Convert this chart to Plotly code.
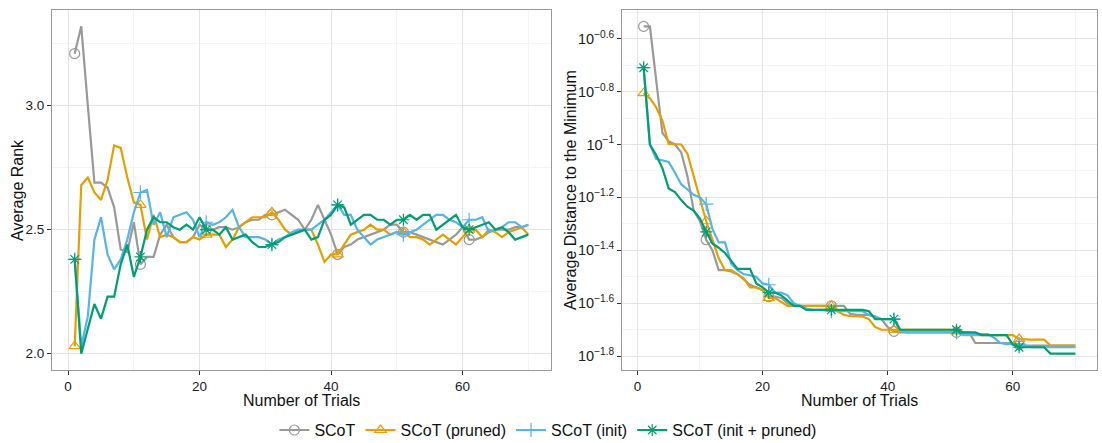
import numpy as np
import plotly.graph_objects as go

# ---------------- data ----------------
trials = list(range(1, 71))
marker_trials = [1, 11, 21, 31, 41, 51, 61]

series_names = ["SCoT", "SCoT (pruned)", "SCoT (init)", "SCoT (init + pruned)"]
series_colors = ["#999999", "#E69F00", "#56B4E9", "#009E73"]
series_symbols = ["circle-open", "triangle-up-open", "cross-thin-open", "asterisk-open"]

# Left panel: average rank
rank_scot = [
    3.21, 3.32, 3.00, 2.69, 2.69, 2.67, 2.59, 2.42, 2.41, 2.53,
    2.36, 2.39, 2.39, 2.48, 2.52, 2.47, 2.45, 2.45, 2.47, 2.52,
    2.50, 2.50, 2.51, 2.51, 2.50, 2.51, 2.53, 2.54, 2.54, 2.56,
    2.56, 2.57, 2.58, 2.56, 2.54, 2.50, 2.54, 2.60, 2.54, 2.48,
    2.40, 2.43, 2.44, 2.46, 2.47, 2.48, 2.49, 2.50, 2.52, 2.52,
    2.49, 2.49, 2.48, 2.47, 2.46, 2.45, 2.44, 2.46, 2.48, 2.51,
    2.46, 2.46, 2.47, 2.49, 2.50, 2.50, 2.50, 2.51, 2.51, 2.52,
]
rank_pruned = [
    2.03, 2.68, 2.71, 2.65, 2.62, 2.70, 2.84, 2.83, 2.71, 2.61,
    2.60, 2.46, 2.56, 2.47, 2.48, 2.47, 2.45, 2.45, 2.47, 2.46,
    2.48, 2.48, 2.48, 2.43, 2.46, 2.51, 2.53, 2.55, 2.55, 2.55,
    2.57, 2.54, 2.50, 2.48, 2.49, 2.50, 2.50, 2.44, 2.37, 2.40,
    2.40, 2.44, 2.48, 2.49, 2.50, 2.52, 2.50, 2.50, 2.48, 2.49,
    2.49, 2.47, 2.47, 2.46, 2.44, 2.46, 2.48, 2.46, 2.44, 2.47,
    2.50, 2.50, 2.47, 2.50, 2.49, 2.47, 2.49, 2.50, 2.51, 2.48,
]
rank_init = [
    2.38, 2.03, 2.15, 2.46, 2.55, 2.40, 2.34, 2.38, 2.46, 2.57,
    2.65, 2.66, 2.52, 2.57, 2.47, 2.55, 2.56, 2.57, 2.54, 2.47,
    2.53, 2.52, 2.53, 2.55, 2.58, 2.51, 2.47, 2.47, 2.47, 2.46,
    2.44, 2.46, 2.47, 2.49, 2.50, 2.50, 2.50, 2.52, 2.54, 2.57,
    2.60, 2.56, 2.56, 2.50, 2.47, 2.44, 2.46, 2.47, 2.48, 2.49,
    2.48, 2.49, 2.50, 2.52, 2.54, 2.56, 2.56, 2.54, 2.53, 2.51,
    2.54, 2.54, 2.55, 2.49, 2.50, 2.51, 2.53, 2.53, 2.51, 2.52,
]
rank_init_pruned = [
    2.38, 2.00, 2.10, 2.20, 2.14, 2.23, 2.23, 2.36, 2.44, 2.31,
    2.39, 2.50, 2.55, 2.53, 2.53, 2.51, 2.50, 2.52, 2.50, 2.55,
    2.50, 2.50, 2.48, 2.51, 2.46, 2.47, 2.48, 2.45, 2.43, 2.43,
    2.44, 2.45, 2.47, 2.48, 2.49, 2.50, 2.46, 2.47, 2.54, 2.56,
    2.60, 2.59, 2.52, 2.54, 2.56, 2.56, 2.54, 2.54, 2.52, 2.54,
    2.54, 2.56, 2.54, 2.56, 2.56, 2.50, 2.52, 2.54, 2.56, 2.51,
    2.50, 2.51, 2.52, 2.53, 2.50, 2.51, 2.49, 2.46, 2.47, 2.48,
]

# Right panel: log10 of average distance to the minimum
log10_dist_scot = [
    -0.554, -0.554, -0.756, -0.956, -0.988, -1.000, -1.030, -1.120, -1.250, -1.290,
    -1.360, -1.400, -1.475, -1.475, -1.480, -1.490, -1.510, -1.530, -1.540, -1.550,
    -1.575, -1.575, -1.580, -1.600, -1.610, -1.610, -1.610, -1.610, -1.610, -1.610,
    -1.610, -1.610, -1.610, -1.640, -1.644, -1.644, -1.644, -1.650, -1.660, -1.690,
    -1.706, -1.710, -1.710, -1.710, -1.710, -1.710, -1.710, -1.710, -1.710, -1.710,
    -1.710, -1.710, -1.710, -1.750, -1.750, -1.750, -1.750, -1.750, -1.750, -1.750,
    -1.756, -1.760, -1.760, -1.760, -1.760, -1.760, -1.760, -1.760, -1.760, -1.760,
]
log10_dist_pruned = [
    -0.806, -0.825, -0.860, -0.910, -0.998, -1.000, -1.000, -1.035, -1.120, -1.210,
    -1.290, -1.360, -1.430, -1.475, -1.475, -1.490, -1.506, -1.540, -1.540, -1.550,
    -1.580, -1.580, -1.596, -1.610, -1.610, -1.610, -1.610, -1.610, -1.610, -1.610,
    -1.610, -1.630, -1.644, -1.648, -1.650, -1.650, -1.660, -1.690, -1.700, -1.700,
    -1.700, -1.700, -1.700, -1.700, -1.700, -1.700, -1.700, -1.700, -1.700, -1.700,
    -1.706, -1.720, -1.720, -1.720, -1.720, -1.720, -1.720, -1.720, -1.720, -1.720,
    -1.735, -1.737, -1.737, -1.737, -1.737, -1.760, -1.760, -1.760, -1.760, -1.760,
]
log10_dist_init = [
    -0.710, -1.000, -1.054, -1.060, -1.066, -1.106, -1.150, -1.170, -1.190, -1.200,
    -1.225, -1.320, -1.370, -1.370, -1.450, -1.475, -1.490, -1.494, -1.500, -1.525,
    -1.530, -1.560, -1.560, -1.570, -1.600, -1.610, -1.620, -1.625, -1.625, -1.625,
    -1.630, -1.630, -1.630, -1.630, -1.630, -1.630, -1.644, -1.650, -1.660, -1.660,
    -1.660, -1.700, -1.710, -1.710, -1.710, -1.710, -1.710, -1.710, -1.710, -1.710,
    -1.710, -1.716, -1.716, -1.716, -1.716, -1.716, -1.730, -1.750, -1.754, -1.754,
    -1.754, -1.760, -1.766, -1.766, -1.766, -1.766, -1.766, -1.766, -1.766, -1.766,
]
log10_dist_init_pruned = [
    -0.710, -1.000, -1.040, -1.090, -1.166, -1.180, -1.210, -1.235, -1.250, -1.280,
    -1.330, -1.375, -1.390, -1.410, -1.440, -1.470, -1.470, -1.470, -1.525, -1.540,
    -1.560, -1.560, -1.570, -1.590, -1.610, -1.610, -1.625, -1.625, -1.625, -1.625,
    -1.625, -1.625, -1.625, -1.625, -1.625, -1.625, -1.630, -1.660, -1.660, -1.660,
    -1.660, -1.700, -1.700, -1.700, -1.700, -1.700, -1.700, -1.700, -1.700, -1.700,
    -1.700, -1.710, -1.710, -1.710, -1.720, -1.720, -1.720, -1.720, -1.720, -1.756,
    -1.766, -1.766, -1.766, -1.766, -1.766, -1.790, -1.790, -1.790, -1.790, -1.790,
]

x_tick_vals = [0, 20, 40, 60]
x_minor_vals = [10, 30, 50, 70]
rank_tick_vals = [2.0, 2.5, 3.0]
rank_tick_text = ["2.0", "2.5", "3.0"]
rank_minor_vals = [2.25, 2.75, 3.25]
dist_tick_exps = [-0.6, -0.8, -1.0, -1.2, -1.4, -1.6, -1.8]
dist_tick_text = ["10<sup>\u22120.6</sup>", "10<sup>\u22120.8</sup>", "10<sup>\u22121</sup>",
                  "10<sup>\u22121.2</sup>", "10<sup>\u22121.4</sup>", "10<sup>\u22121.6</sup>",
                  "10<sup>\u22121.8</sup>"]
dist_minor_exps = [-0.5, -0.7, -0.9, -1.1, -1.3, -1.5, -1.7]

rank_series = [rank_scot, rank_pruned, rank_init, rank_init_pruned]
dist_series = [log10_dist_scot, log10_dist_pruned, log10_dist_init, log10_dist_init_pruned]

# ---------------- figure ----------------
FONT = "Liberation Sans, Arial, Helvetica, sans-serif"
fig = go.Figure()

def add_series(xa, ya, yvals, i):
    yarr = np.asarray(yvals, dtype=float)
    tr = np.asarray(trials)
    fig.add_trace(go.Scatter(
        x=tr, y=yarr, mode="lines", xaxis=xa, yaxis=ya,
        line=dict(color=series_colors[i], width=2.2),
        legendgroup=series_names[i], showlegend=False, hoverinfo="skip"))
    idx = [trials.index(t) for t in marker_trials]
    fig.add_trace(go.Scatter(
        x=tr[idx], y=yarr[idx], mode="markers", xaxis=xa, yaxis=ya,
        marker=dict(symbol=series_symbols[i], size=10, color=series_colors[i],
                    line=dict(color=series_colors[i], width=1.2)),
        legendgroup=series_names[i], showlegend=False, hoverinfo="skip"))

for i in range(4):
    add_series("x", "y", rank_series[i], i)
for i in range(4):
    add_series("x2", "y2", np.power(10.0, np.asarray(dist_series[i])), i)

# legend-only entries
for i in range(4):
    fig.add_trace(go.Scatter(
        x=[None], y=[None], mode="lines+markers", name=series_names[i],
        line=dict(color=series_colors[i], width=2.2),
        marker=dict(symbol=series_symbols[i], size=10, color=series_colors[i],
                    line=dict(color=series_colors[i], width=1.2)),
        legendgroup=series_names[i], showlegend=True, xaxis="x", yaxis="y"))

grid_major = "#E4E4E4"
grid_minor = "#F4F4F4"
border = "#9A9A9A"
tickfont = dict(family=FONT, size=13.5, color="#222222")
tickfont_log = dict(family=FONT, size=14.5, color="#222222")

common_x = dict(
    range=[-2.45, 73.45], tickmode="array", tickvals=x_tick_vals, automargin=False,
    showgrid=True, gridcolor=grid_major, gridwidth=1, zeroline=False,
    showline=True, linecolor=border, linewidth=1, mirror=True,
    ticks="outside", ticklen=4, tickwidth=1, tickcolor="#333333",
    tickfont=tickfont,
    minor=dict(tickmode="array", tickvals=x_minor_vals, showgrid=True,
               gridcolor=grid_minor, gridwidth=1, ticks=""),
)

fig.update_layout(
    width=1102, height=443,
    margin=dict(l=52, r=5, t=10, b=73, autoexpand=False),
    paper_bgcolor="white", plot_bgcolor="white",
    font=dict(family=FONT, color="#111111"),
    xaxis=dict(domain=[0, 0.4775], anchor="y", **common_x),
    xaxis2=dict(domain=[0.5455, 1.0], anchor="y2", **common_x),
    yaxis=dict(
        domain=[0, 1], anchor="x", automargin=False,
        range=[1.934, 3.386], tickmode="array", tickvals=rank_tick_vals, ticktext=rank_tick_text,
        showgrid=True, gridcolor=grid_major, gridwidth=1, zeroline=False,
        showline=True, linecolor=border, linewidth=1, mirror=True,
        ticks="outside", ticklen=4, tickwidth=1, tickcolor="#333333", tickfont=tickfont,
        minor=dict(tickmode="array", tickvals=rank_minor_vals, showgrid=True,
                   gridcolor=grid_minor, gridwidth=1, ticks=""),
    ),
    yaxis2=dict(
        domain=[0, 1], anchor="x2", type="log", automargin=False,
        range=[-1.852, -0.492], tickmode="array",
        tickvals=[10 ** e for e in dist_tick_exps], ticktext=dist_tick_text,
        showgrid=True, gridcolor=grid_major, gridwidth=1, zeroline=False,
        showline=True, linecolor=border, linewidth=1, mirror=True,
        ticks="outside", ticklen=4, tickwidth=1, tickcolor="#333333", tickfont=tickfont_log,
        minor=dict(tickmode="array", tickvals=[10 ** e for e in dist_minor_exps], showgrid=True,
                   gridcolor=grid_minor, gridwidth=1, ticks=""),
    ),
    showlegend=True,
    legend=dict(orientation="h", x=0.475, xanchor="center", y=-0.167, yanchor="middle",
                font=dict(family=FONT, size=16, color="#111111"),
                bgcolor="rgba(0,0,0,0)", itemwidth=30, tracegroupgap=0),
)

title_font = dict(family=FONT, size=16, color="#111111")
annotations = [
    dict(text="Average Rank", x=-0.0335, y=0.5, xref="paper", yref="paper",
         textangle=-90, showarrow=False, font=title_font, xanchor="center", yanchor="middle"),
    dict(text="Average Distance to the Minimum", x=0.4957, y=0.5, xref="paper", yref="paper",
         textangle=-90, showarrow=False, font=title_font, xanchor="center", yanchor="middle"),
    dict(text="Number of Trials", x=0.4775 / 2, y=-0.086, xref="paper", yref="paper",
         showarrow=False, font=title_font, xanchor="center", yanchor="middle"),
    dict(text="Number of Trials", x=(0.5455 + 1.0) / 2, y=-0.086, xref="paper", yref="paper",
         showarrow=False, font=title_font, xanchor="center", yanchor="middle"),
]
fig.update_layout(annotations=annotations)

fig.write_html(
    "out.html",
    config={"displayModeBar": False},
    post_script="document.body.style.margin='0';document.body.style.overflow='hidden';",
)
